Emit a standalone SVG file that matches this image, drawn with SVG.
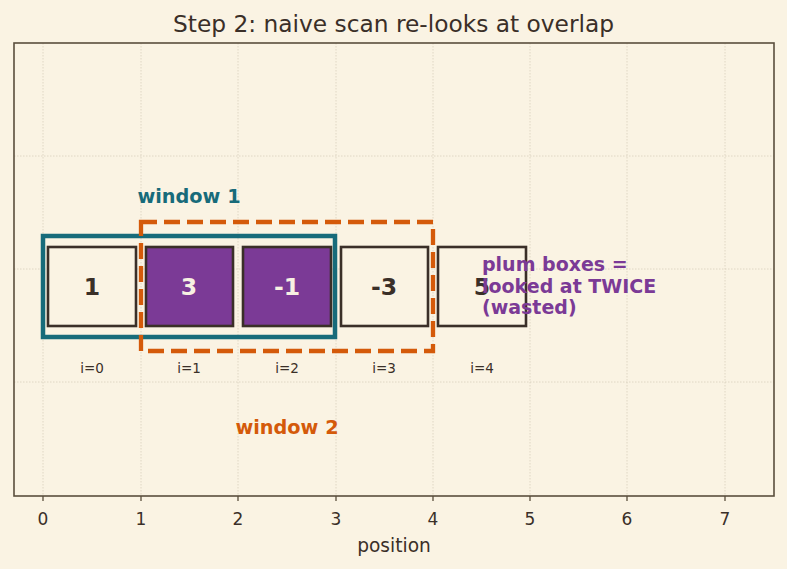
<svg xmlns="http://www.w3.org/2000/svg" width="787" height="569" viewBox="0 0 787 569">
<style>
text{font-family:"DejaVu Sans","Liberation Sans",sans-serif;}
.grid{stroke:#d8cfbd;stroke-width:0.8;stroke-dasharray:1.5,1.5;fill:none}
.cell{stroke:#3a2f28;stroke-width:2.6}
.plain{fill:#faf3e3}
.plum{fill:#7b3a96}
.num{font-size:23.5px;font-weight:bold;text-anchor:middle}
.idx{font-size:13.5px;fill:#3a2f28;text-anchor:middle}
.tick{font-size:17px;fill:#3a2f28;text-anchor:middle}
.note{font-size:19px;font-weight:bold;fill:#7b3a96}
</style>
<rect width="787" height="569" fill="#faf3e3"/>
<text x="393.5" y="32" font-size="23.3" fill="#3a2f28" text-anchor="middle">Step 2: naive scan re-looks at overlap</text>
<g id="grid">
<line class="grid" x1="43" y1="43" x2="43" y2="496"/>
<line class="grid" x1="141" y1="43" x2="141" y2="496"/>
<line class="grid" x1="238" y1="43" x2="238" y2="496"/>
<line class="grid" x1="336" y1="43" x2="336" y2="496"/>
<line class="grid" x1="433" y1="43" x2="433" y2="496"/>
<line class="grid" x1="530" y1="43" x2="530" y2="496"/>
<line class="grid" x1="627" y1="43" x2="627" y2="496"/>
<line class="grid" x1="725" y1="43" x2="725" y2="496"/>
<line class="grid" x1="14" y1="156" x2="774" y2="156"/>
<line class="grid" x1="14" y1="269" x2="774" y2="269"/>
<line class="grid" x1="14" y1="382" x2="774" y2="382"/>
</g>
<g id="cells">
<g id="c0"><rect class="cell plain" x="48" y="247" width="88" height="79"/><text class="num" x="92" y="295" fill="#3a2f28">1</text><text class="idx" x="92" y="373">i=0</text></g>
<g id="c1"><rect class="cell plum" x="146" y="247" width="87" height="79"/><text class="num" x="189" y="295" fill="#f7f0e2">3</text><text class="idx" x="189" y="373">i=1</text></g>
<g id="c2"><rect class="cell plum" x="243" y="247" width="88" height="79"/><text class="num" x="287" y="295" fill="#f7f0e2">-1</text><text class="idx" x="287" y="373">i=2</text></g>
<g id="c3"><rect class="cell plain" x="341" y="247" width="87" height="79"/><text class="num" x="384" y="295" fill="#3a2f28">-3</text><text class="idx" x="384" y="373">i=3</text></g>
<g id="c4"><rect class="cell plain" x="438" y="247" width="88" height="79"/><text class="num" x="482" y="295" fill="#3a2f28">5</text><text class="idx" x="482" y="373">i=4</text></g>
</g>
<g id="windows">
<g id="window1"><rect x="43" y="236" width="292" height="101" fill="none" stroke="#176b7a" stroke-width="4.5"/><text x="189" y="203" font-size="19.3" font-weight="bold" fill="#176b7a" text-anchor="middle">window 1</text></g>
<g id="window2"><rect x="141" y="222" width="292" height="129" fill="none" stroke="#d45a0a" stroke-width="4.3" stroke-dasharray="16,7"/><text x="287" y="434" font-size="19.3" font-weight="bold" fill="#d45a0a" text-anchor="middle">window 2</text></g>
</g>
<g id="note"><text class="note" x="482" y="271">plum boxes =</text><text class="note" x="482" y="293">looked at TWICE</text><text class="note" x="482" y="314">(wasted)</text></g>
<g id="axes">
<rect x="14" y="43" width="760" height="453" fill="none" stroke="#5a4e3c" stroke-width="1.6"/>
<g stroke="#5a4e3c" stroke-width="1.3">
<line x1="43" y1="496" x2="43" y2="501"/><line x1="141" y1="496" x2="141" y2="501"/><line x1="238" y1="496" x2="238" y2="501"/><line x1="336" y1="496" x2="336" y2="501"/><line x1="433" y1="496" x2="433" y2="501"/><line x1="530" y1="496" x2="530" y2="501"/><line x1="627" y1="496" x2="627" y2="501"/><line x1="725" y1="496" x2="725" y2="501"/>
</g>
<text class="tick" x="43" y="525">0</text><text class="tick" x="141" y="525">1</text><text class="tick" x="238" y="525">2</text><text class="tick" x="336" y="525">3</text><text class="tick" x="433" y="525">4</text><text class="tick" x="530" y="525">5</text><text class="tick" x="627" y="525">6</text><text class="tick" x="725" y="525">7</text>
<text x="394" y="552" font-size="18.6" fill="#3a2f28" text-anchor="middle">position</text>
</g>
</svg>
